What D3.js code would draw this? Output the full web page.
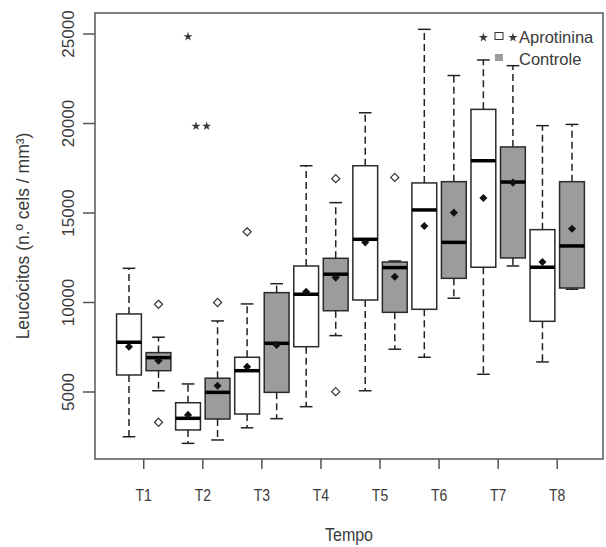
<!DOCTYPE html>
<html>
<head>
<meta charset="utf-8">
<script src="https://cdn.jsdelivr.net/npm/d3@7/dist/d3.min.js"></script>
<style>
  body { margin: 0; background: #fff; }
  text { font-family: "Liberation Sans", Arial, sans-serif; fill: #3a3a3a; }
</style>
</head>
<body>
<div id="chart"></div>
<script>
// Tempo categories and the two groups
const times = ['T1', 'T2', 'T3', 'T4', 'T5', 'T6', 'T7', 'T8'];
const groups = ['Aprotinina', 'Controle'];

// Aprotinina (white boxes)
const aproLow    = [2500, 2130, 3000, 4180, 5070, 6940, 5990, 6680];
const aproQ1     = [5950, 2880, 3770, 7530, 10140, 9620, 11970, 8950];
const aproMedian = [7780, 3530, 6190, 10460, 13530, 15170, 17920, 11970];
const aproQ3     = [9360, 4400, 6940, 12040, 17640, 16680, 20790, 14070];
const aproHigh   = [11910, 5450, 9920, 17640, 20600, 25260, 23550, 19880];
const aproMean   = [7530, 3720, 6410, 10600, 13360, 14270, 15840, 12260];
const aproOut    = [[], [], [13950], [], [], [], [], []];

// Controle (grey boxes)
const ctrlLow    = [5070, 2320, 3510, 8150, 7390, 10240, 12040, 10740];
const ctrlQ1     = [6190, 3490, 4980, 9540, 9450, 11350, 12490, 10810];
const ctrlMedian = [6920, 4980, 7720, 11580, 11950, 13360, 16730, 13160];
const ctrlQ3     = [7200, 5770, 10550, 12470, 12260, 16750, 18690, 16750];
const ctrlHigh   = [8060, 8970, 11050, 15580, 12320, 22680, 23230, 19950];
const ctrlMean   = [6750, 5350, 7630, 11390, 11440, 15020, 16700, 14120];
const ctrlOut    = [[9900, 3310], [10000], [], [16920, 5020], [16990], [], [], []];

// significance stars (box slot, value)
const starSlots  = [2, 2.27, 2.63, 12, 13];
const starValues = [24850, 19850, 19850, 24800, 24800];

const yTicks = [5000, 10000, 15000, 20000, 25000];

const W = 606, H = 547;
const plot = { left: 95, right: 603, top: 13, bottom: 459 };

const svg = d3.select('#chart').append('svg')
  .attr('width', W).attr('height', H);

// each time point has two slots (0 = Aprotinina, 1 = Controle)
const x = d3.scaleLinear().domain([-1.15, 16.05]).range([plot.left, plot.right]);
const y = d3.scaleLinear().domain([1257, 26173]).range([plot.bottom, plot.top]);

const boxW = x(0.84) - x(0);
const capW = x(0.43) - x(0);

const boxes = [];
times.forEach((t, i) => {
  boxes.push({ slot: 2 * i, fill: '#fff', low: aproLow[i], q1: aproQ1[i], med: aproMedian[i],
    q3: aproQ3[i], high: aproHigh[i], mean: aproMean[i], out: aproOut[i] });
  boxes.push({ slot: 2 * i + 1, fill: '#9c9c9c', low: ctrlLow[i], q1: ctrlQ1[i], med: ctrlMedian[i],
    q3: ctrlQ3[i], high: ctrlHigh[i], mean: ctrlMean[i], out: ctrlOut[i] });
});

const g = svg.append('g');

boxes.forEach(b => {
  const cx = x(b.slot);
  // whiskers
  [[b.q3, b.high], [b.q1, b.low]].forEach(([a, e]) => {
    g.append('line')
      .attr('x1', cx).attr('x2', cx)
      .attr('y1', y(a)).attr('y2', y(e))
      .attr('stroke', '#222').attr('stroke-width', 1.5)
      .attr('stroke-dasharray', '7,4');
    g.append('line')
      .attr('x1', cx - capW / 2).attr('x2', cx + capW / 2)
      .attr('y1', y(e)).attr('y2', y(e))
      .attr('stroke', '#222').attr('stroke-width', 1.5);
  });
  // box
  g.append('rect')
    .attr('x', cx - boxW / 2).attr('width', boxW)
    .attr('y', y(b.q3)).attr('height', y(b.q1) - y(b.q3))
    .attr('fill', b.fill).attr('stroke', '#2a2a2a').attr('stroke-width', 1.5);
  // median
  g.append('line')
    .attr('x1', cx - boxW / 2).attr('x2', cx + boxW / 2)
    .attr('y1', y(b.med)).attr('y2', y(b.med))
    .attr('stroke', '#000').attr('stroke-width', 3.5);
  // mean
  g.append('path')
    .attr('d', d3.symbol(d3.symbolDiamond2, 42)())
    .attr('transform', `translate(${cx},${y(b.mean)})`)
    .attr('fill', '#111');
  // outliers
  b.out.forEach(v => {
    g.append('path')
      .attr('d', d3.symbol(d3.symbolDiamond2, 42)())
      .attr('transform', `translate(${cx},${y(v)})`)
      .attr('fill', 'none').attr('stroke', '#333').attr('stroke-width', 1.2);
  });
});

// stars
starSlots.forEach((s, i) => {
  g.append('path')
    .attr('d', d3.symbol(d3.symbolStar, 26)())
    .attr('transform', `translate(${x(s)},${y(starValues[i])})`)
    .attr('fill', '#3a3a3a');
});

// frame
svg.append('rect')
  .attr('x', plot.left).attr('y', plot.top)
  .attr('width', plot.right - plot.left).attr('height', plot.bottom - plot.top)
  .attr('fill', 'none').attr('stroke', '#555').attr('stroke-width', 1.5);

// y axis
yTicks.forEach(v => {
  svg.append('line')
    .attr('x1', plot.left - 12).attr('x2', plot.left)
    .attr('y1', y(v)).attr('y2', y(v))
    .attr('stroke', '#555').attr('stroke-width', 1.5);
  svg.append('text')
    .attr('transform', `translate(74,${y(v)}) rotate(-90)`)
    .attr('text-anchor', 'middle')
    .style('font-size', '17px')
    .text(v);
});

// x axis
times.forEach((t, i) => {
  const tx = x(2 * i + 0.5);
  svg.append('line')
    .attr('x1', tx).attr('x2', tx)
    .attr('y1', plot.bottom).attr('y2', plot.bottom + 10)
    .attr('stroke', '#555').attr('stroke-width', 1.5);
  svg.append('text')
    .attr('transform', `translate(${tx},501) scale(1,1.15)`)
    .attr('text-anchor', 'middle')
    .style('font-size', '14px')
    .text(t);
});

// axis titles
svg.append('text')
  .attr('transform', `translate(${(plot.left + plot.right) / 2},541) scale(1,1.16)`)
  .attr('text-anchor', 'middle')
  .style('font-size', '16px')
  .text('Tempo');

svg.append('text')
  .attr('transform', `translate(29,${(plot.top + plot.bottom) / 2}) rotate(-90)`)
  .attr('text-anchor', 'middle')
  .style('font-size', '17.5px')
  .text('Leucócitos (n.º cels / mm³)');

// legend
const legend = svg.append('g');
groups.forEach((name, i) => {
  const ly = 43 + i * 21.5;
  legend.append('rect')
    .attr('x', 495).attr('y', ly - 10.5)
    .attr('width', 8).attr('height', 7)
    .attr('fill', i === 0 ? '#fff' : '#9c9c9c')
    .attr('stroke', i === 0 ? '#333' : 'none')
    .attr('stroke-width', 1);
  legend.append('text')
    .attr('x', 519).attr('y', ly)
    .style('font-size', '16.5px')
    .text(name);
});
</script>
</body>
</html>
